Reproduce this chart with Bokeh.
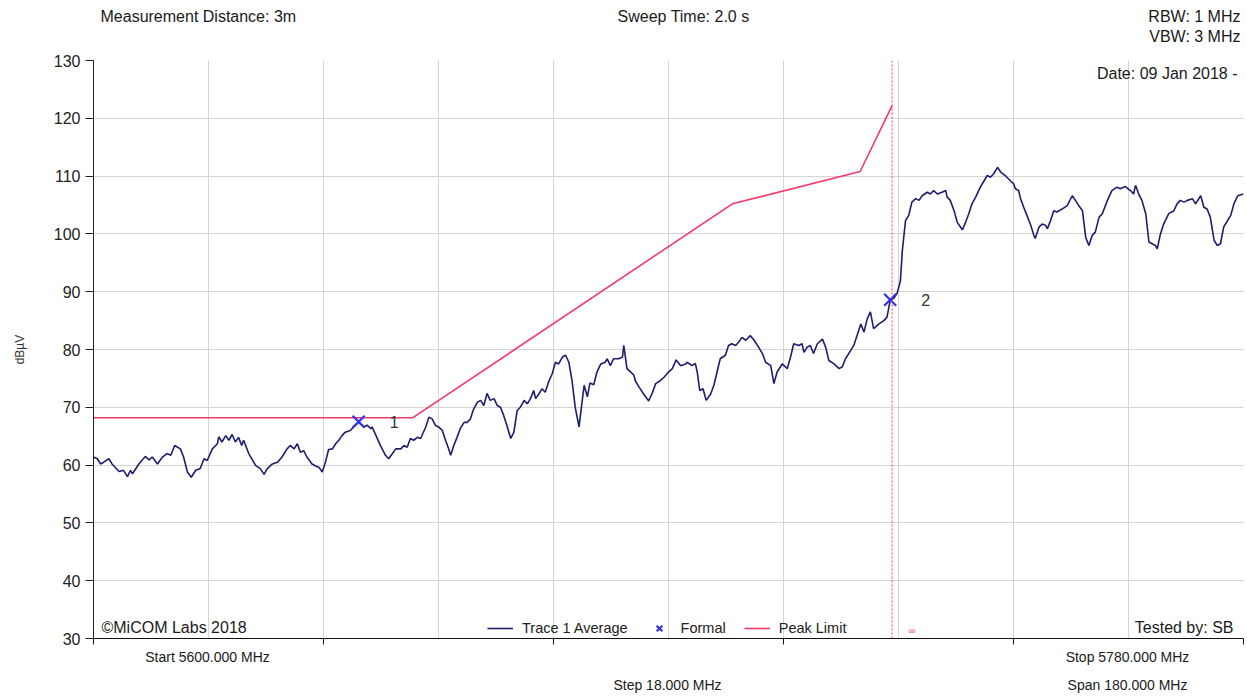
from bokeh.plotting import figure
from bokeh.layouts import column
from bokeh.models import (Range1d, FixedTicker, Label, Span, Legend, LegendItem)
from bokeh.core.properties import value
from bokeh.embed import file_html
from bokeh.resources import INLINE

# ---------------- data ----------------
trace_freq = [
    5600.0, 5600.6, 5601.1, 5601.6, 5602.4, 5602.9, 5604.0, 5604.7, 5605.3, 5605.8,
    5606.1, 5607.1, 5608.1, 5608.7, 5609.2, 5610.0, 5610.8, 5611.5, 5612.1, 5612.7,
    5613.6, 5614.1, 5614.7, 5615.3, 5616.0, 5616.7, 5617.3, 5617.8, 5618.6, 5619.4,
    5619.6, 5620.1, 5620.7, 5621.2, 5621.7, 5622.2, 5622.7, 5623.2, 5623.5, 5624.3,
    5625.4, 5626.1, 5626.7, 5627.2, 5628.0, 5628.8, 5629.5, 5630.3, 5630.8, 5631.4,
    5631.9, 5632.4, 5632.9, 5633.4, 5634.2, 5634.7, 5635.3, 5635.8, 5636.3, 5636.8,
    5637.4, 5637.9, 5638.4, 5638.9, 5639.4, 5640.2, 5640.7, 5641.5, 5642.3, 5642.8,
    5643.4, 5643.6, 5644.1, 5644.9, 5645.7, 5646.2, 5646.8, 5647.3, 5648.1, 5648.6,
    5649.1, 5649.6, 5650.1, 5650.7, 5651.2, 5652.0, 5652.5, 5653.0, 5653.5, 5654.0,
    5654.6, 5655.1, 5655.6, 5655.9, 5656.4, 5656.9, 5657.4, 5658.0, 5658.5, 5659.0,
    5659.5, 5660.1, 5660.6, 5661.1, 5661.6, 5662.1, 5662.7, 5663.2, 5663.7, 5664.2,
    5664.7, 5665.3, 5665.8, 5666.3, 5666.8, 5667.4, 5667.9, 5668.4, 5668.9, 5669.2,
    5669.7, 5670.2, 5670.7, 5671.3, 5671.8, 5672.3, 5672.8, 5673.4, 5673.9, 5674.4,
    5674.9, 5675.4, 5676.0, 5676.5, 5676.8, 5677.3, 5677.7, 5678.3, 5678.8, 5679.4,
    5680.1, 5680.4, 5680.9, 5681.4, 5682.2, 5682.8, 5683.0, 5683.5, 5684.1, 5684.6,
    5684.8, 5685.4, 5686.1, 5686.9, 5687.4, 5688.0, 5688.7, 5689.3, 5690.0, 5690.6,
    5691.2, 5691.9, 5692.7, 5692.9, 5693.7, 5694.2, 5694.5, 5694.9, 5695.4, 5695.9,
    5696.6, 5697.1, 5697.6, 5698.1, 5698.9, 5699.4, 5699.9, 5700.5, 5701.0, 5701.5,
    5702.1, 5702.8, 5703.4, 5704.1, 5704.7, 5705.2, 5706.0, 5706.5, 5707.0, 5707.8,
    5708.6, 5709.1, 5709.6, 5710.4, 5710.9, 5711.2, 5711.7, 5712.2, 5712.7, 5713.3,
    5714.1, 5714.6, 5715.1, 5715.9, 5716.7, 5717.2, 5717.7, 5718.5, 5719.0, 5719.5,
    5720.1, 5720.6, 5721.1, 5721.6, 5722.1, 5722.9, 5723.7, 5724.2, 5724.7, 5725.3,
    5725.8, 5726.3, 5726.6, 5727.1, 5727.6, 5728.1, 5728.7, 5729.2, 5729.7, 5730.5,
    5731.0, 5731.5, 5732.1, 5732.8, 5733.4, 5733.6, 5734.1, 5734.7, 5735.2, 5735.7,
    5736.0, 5736.5, 5737.0, 5737.5, 5738.1, 5738.8, 5739.4, 5739.9, 5740.4, 5740.9,
    5741.5, 5742.0, 5742.7, 5743.5, 5744.0, 5744.3, 5744.8, 5745.1, 5745.6, 5746.1,
    5746.7, 5747.2, 5747.4, 5748.0, 5748.5, 5749.0, 5749.3, 5749.8, 5750.3, 5750.8,
    5751.6, 5752.4, 5753.2, 5753.7, 5754.2, 5754.8, 5755.3, 5755.8, 5756.3, 5756.8,
    5757.4, 5757.9, 5758.7, 5759.4, 5760.2, 5760.7, 5761.5, 5762.3, 5762.8, 5763.1,
    5763.6, 5764.1, 5764.7, 5765.2, 5765.7, 5766.2, 5766.5, 5767.0, 5767.5, 5768.3,
    5769.1, 5769.6, 5770.1, 5770.7, 5771.2, 5772.0, 5772.5, 5773.3, 5773.8, 5774.3,
    5774.8, 5775.4, 5775.9, 5776.4, 5776.9, 5777.5, 5778.0, 5778.5, 5779.1, 5780.0,
]
trace_level = [
    61.4, 61.1, 60.2, 60.5, 61.1, 60.2, 58.9, 59.1, 58.0, 59.1,
    58.5, 60.2, 61.5, 60.9, 61.4, 60.2, 61.4, 62.0, 61.7, 63.4,
    62.8, 61.4, 58.8, 57.9, 59.1, 59.4, 61.1, 60.8, 62.8, 63.7,
    64.9, 64.0, 65.1, 64.3, 65.3, 64.0, 64.8, 63.4, 64.3, 62.0,
    59.9, 59.4, 58.4, 59.4, 60.2, 60.5, 61.4, 62.8, 63.4, 62.8,
    63.7, 62.2, 62.5, 61.4, 60.2, 59.9, 59.6, 58.8, 60.5, 62.7,
    62.8, 63.7, 64.3, 65.1, 65.7, 66.0, 66.6, 67.4, 66.6, 66.9,
    66.3, 66.6, 65.4, 63.4, 61.7, 61.1, 62.0, 62.8, 62.8, 63.4,
    63.1, 64.6, 64.3, 64.8, 64.6, 66.6, 68.3, 68.0, 66.9, 66.6,
    66.0, 64.3, 62.8, 61.7, 63.4, 64.8, 66.3, 67.4, 67.4, 68.0,
    69.7, 70.9, 71.2, 70.3, 72.4, 71.2, 71.5, 70.3, 70.0, 68.6,
    66.9, 64.6, 65.7, 69.4, 70.0, 71.2, 70.6, 71.5, 72.9, 71.5,
    72.3, 73.2, 72.6, 74.6, 75.8, 77.8, 77.5, 78.7, 79.0, 77.8,
    74.6, 70.0, 66.6, 71.2, 73.8, 71.8, 74.2, 73.9, 76.1, 77.5,
    77.8, 78.4, 77.2, 78.4, 78.4, 78.7, 80.7, 76.7, 76.1, 75.5,
    74.6, 73.5, 72.3, 71.1, 72.3, 74.1, 74.6, 75.2, 76.1, 76.7,
    78.2, 77.2, 77.5, 77.8, 77.2, 77.6, 76.1, 72.9, 73.2, 71.2,
    72.3, 73.8, 76.1, 78.4, 79.0, 80.7, 81.0, 80.7, 81.3, 82.1,
    81.6, 82.4, 81.6, 80.4, 79.3, 77.8, 77.2, 74.1, 76.1, 77.5,
    76.7, 78.7, 81.0, 80.7, 81.0, 79.5, 80.4, 80.7, 79.3, 81.0,
    81.8, 80.4, 78.1, 77.5, 76.7, 77.0, 78.4, 79.8, 80.7, 82.4,
    84.4, 83.0, 85.3, 86.5, 83.6, 84.4, 85.0, 85.6, 88.5, 88.9,
    89.8, 91.9, 97.1, 102.3, 103.2, 105.5, 106.1, 105.8, 106.6, 107.2,
    106.9, 107.5, 106.9, 107.2, 107.5, 106.4, 105.8, 104.0, 102.0, 101.2,
    100.7, 102.0, 103.5, 105.2, 106.4, 108.1, 109.2, 110.1, 109.8, 110.4,
    111.5, 110.7, 110.1, 109.2, 108.7, 107.8, 107.5, 106.1, 104.6, 103.2,
    101.5, 99.7, 99.2, 101.2, 101.7, 101.5, 100.9, 102.3, 104.0, 103.8,
    104.3, 104.9, 106.6, 105.8, 104.9, 104.0, 99.4, 98.0, 99.7, 100.3,
    102.9, 103.5, 105.8, 107.5, 108.1, 107.8, 108.2, 107.5, 106.9, 108.4,
    106.9, 105.8, 103.5, 98.6, 98.3, 98.0, 97.4, 100.0, 101.7, 103.5,
    104.0, 105.2, 105.8, 105.5, 105.8, 106.1, 105.2, 106.6, 104.6, 104.3,
    102.9, 98.9, 98.0, 98.3, 101.2, 102.3, 103.2, 105.2, 106.6, 106.9,
]

limit_freq = [5600, 5650, 5700, 5720, 5725]
limit_level = [68.2, 68.2, 105.2, 110.8, 122.2]

marker_freq = [5641.5, 5724.7]
marker_level = [67.5, 88.6]
marker_names = ["1", "2"]

band_edge = 5725
x_start, x_stop, x_step = 5600, 5780, 18
y_ticks = [30, 40, 50, 60, 70, 80, 90, 100, 110, 120, 130]

FONT = "Liberation Sans"
TEXT_C = "#1a1a1a"
TRACE_C = "#1e1e6e"
LIMIT_C = "#f23a66"
MARK_C = "#3030ee"

W = 1247
BL, BR = 93, 4          # left / right borders of the main frame
FW = W - BL - BR        # frame width (1150)
FH = 578                # frame height


def strip(height):
    f = figure(width=W, height=height, output_backend="svg", toolbar_location=None,
               x_axis_type=None, y_axis_type=None,
               x_range=Range1d(0, 1), y_range=Range1d(0, 1),
               min_border=0, min_border_left=0, min_border_right=0,
               min_border_top=0, min_border_bottom=0)
    f.outline_line_color = None
    f.grid.visible = False
    f.background_fill_color = "white"
    f.border_fill_color = "white"
    return f


def lab(fig, text, x, y, align="left", size="16px", color=TEXT_C):
    fig.add_layout(Label(x=x, y=y, x_units="screen", y_units="screen", text=text,
                         text_align=align, text_baseline="middle", text_font=FONT,
                         text_font_size=size, text_color=color))


# ---------------- header strip (x measured from the aligned frame's left edge) ----------------
top = strip(52)
lab(top, "Measurement Distance: 3m", 7, 36)
lab(top, "Sweep Time: 2.0 s", 590, 36, align="center")
lab(top, "RBW: 1 MHz", 1147, 36, align="right")
lab(top, "VBW: 3 MHz", 1147, 16, align="right")

# ---------------- main chart ----------------
p = figure(width=W, height=8 + FH + 10, output_backend="svg", toolbar_location=None,
           x_range=Range1d(x_start, x_stop), y_range=Range1d(y_ticks[0], y_ticks[-1]),
           min_border_left=BL, min_border_right=BR, min_border_top=8, min_border_bottom=10)
p.outline_line_color = None
p.background_fill_color = "white"
p.border_fill_color = "white"

grid_ticks = list(range(x_start, x_stop + 1, x_step))
p.xgrid.ticker = FixedTicker(ticks=grid_ticks)
p.ygrid.ticker = FixedTicker(ticks=y_ticks)
for g in (p.xgrid, p.ygrid):
    g.grid_line_color = "#d4d4d4"
    g.grid_line_width = 1

p.yaxis.ticker = FixedTicker(ticks=y_ticks)
p.yaxis.minor_tick_line_color = None
p.yaxis.major_tick_out = 8
p.yaxis.major_tick_in = 0
p.yaxis.major_label_text_font = FONT
p.yaxis.major_label_text_font_size = "16px"
p.yaxis.major_label_text_color = "#222222"
p.yaxis.axis_line_color = "#222222"
p.yaxis.major_tick_line_color = "#222222"
p.yaxis.axis_label = "dBµV"
p.yaxis.axis_label_text_font = FONT
p.yaxis.axis_label_text_font_size = "12px"
p.yaxis.axis_label_text_font_style = "normal"
p.yaxis.axis_label_text_color = "#333333"
p.yaxis.axis_label_standoff = 24

xt = list(range(x_start, x_stop + 1, 2 * x_step))
p.xaxis.ticker = FixedTicker(ticks=xt)
p.xaxis.major_label_overrides = {t: "" for t in xt}
p.xaxis.minor_tick_line_color = None
p.xaxis.major_tick_out = 6
p.xaxis.major_tick_in = 0
p.xaxis.axis_line_color = "#111111"
p.xaxis.major_tick_line_color = "#111111"

r_trace = p.line(trace_freq, trace_level, line_color=TRACE_C, line_width=1.6)
r_limit = p.line(limit_freq, limit_level, line_color=LIMIT_C, line_width=1.6)
r_mark = p.scatter(marker_freq, marker_level, marker="x", size=17, line_color=MARK_C, line_width=2.2)
p.text(marker_freq, marker_level, text=marker_names, x_offset=31, text_baseline="middle",
       text_align="left", text_font=value(FONT), text_font_size="16px", text_color="#333333")

p.add_layout(Span(location=band_edge, dimension="height", line_color="#ff3355",
                  line_width=1, line_dash="2 2"))

legend = Legend(items=[LegendItem(label="Trace 1 Average", renderers=[r_trace]),
                       LegendItem(label="Formal", renderers=[r_mark]),
                       LegendItem(label="Peak Limit", renderers=[r_limit])],
                orientation="horizontal", location=(394, 0), padding=0, margin=0,
                spacing=18, glyph_width=26, glyph_height=20, label_standoff=9,
                label_text_font=FONT, label_text_font_size="14.5px", label_text_color="#222222",
                background_fill_alpha=0, border_line_color=None)
p.add_layout(legend)

lab(p, "Date: 09 Jan 2018 -", 1144, 565, align="right")
lab(p, "©MiCOM Labs 2018", 8, 11)
lab(p, "Tested by: SB", 1140, 11, align="right")
lab(p, "∞", 815, 8, size="10px", color="#f06080")

# ---------------- footer strip ----------------
bottom = strip(46)
lab(bottom, "Start 5600.000 MHz", 114, 38, align="center", size="14px")
lab(bottom, "Stop 5780.000 MHz", 1034, 38, align="center", size="14px")
lab(bottom, "Step 18.000 MHz", 574, 10, align="center", size="14px")
lab(bottom, "Span 180.000 MHz", 1034, 10, align="center", size="14px")

layout = column(top, p, bottom, spacing=0)
open("out.html", "w").write(file_html(layout, INLINE))
